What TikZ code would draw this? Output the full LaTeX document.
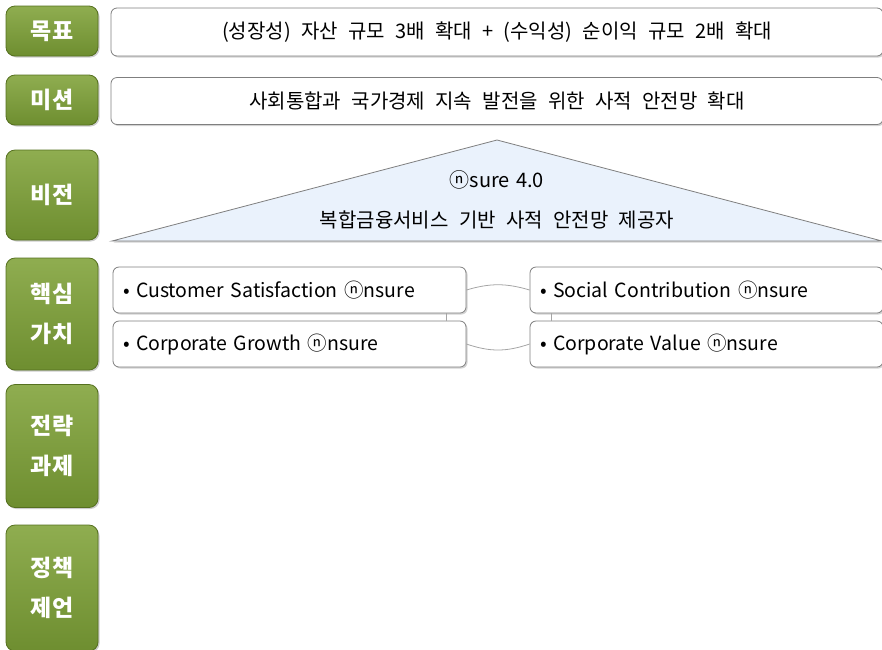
\documentclass[tikz,border=0pt]{standalone}
\usepackage{fontspec}
\setmainfont{Noto Sans CJK KR}[WordSpace=2.3]
\usetikzlibrary{shadows}
\definecolor{btntop}{HTML}{8FAD50}
\definecolor{btnbot}{HTML}{6E8E30}
\definecolor{btnedge}{HTML}{55701F}
\definecolor{tri}{HTML}{EAF2FC}
\definecolor{edge}{HTML}{7F7F7F}
\tikzset{
  btn/.style={draw=btnedge, line width=0.8pt, rounded corners=9pt, top color=btntop, bottom color=btnbot,
    drop shadow={shadow xshift=1.5pt, shadow yshift=-1.5pt, opacity=0.4},
    text=white, font=\bfseries\fontsize{23}{40}\selectfont, align=center, minimum width=92pt, inner sep=0pt},
  wbox/.style={draw=edge, line width=0.8pt, rounded corners=6pt, fill=white,
    drop shadow={shadow xshift=1.5pt, shadow yshift=-1.5pt, opacity=0.35},
    font=\fontsize{20}{22}\selectfont, inner sep=0pt},
  vbox/.style={wbox, font=\fontsize{19.5}{22}\selectfont, minimum width=353pt, minimum height=46pt, text width=333pt, align=left},
  vtext/.style={font=\fontsize{20}{22}\selectfont},
  link/.style={draw=edge!70, line width=0.8pt}
}
\begin{document}
\begin{tikzpicture}[x=1pt,y=-1pt]
\useasboundingbox (0,0) rectangle (882,649);
% left buttons
\node[btn, minimum height=50pt] (goalb) at (52,31) {목표};
\node[btn, minimum height=50pt] (missb) at (52,100) {미션};
\node[btn, minimum height=90pt] (visb) at (52,195) {비전};
\node[btn, minimum height=112pt] (coreb) at (52,314) {핵심\\가치};
\node[btn, minimum height=123pt] (stratb) at (52,446) {전략\\과제};
\node[btn, minimum height=126pt] (polb) at (52,588) {정책\\제언};
% goal / mission
\node[wbox, minimum width=772pt, minimum height=48pt] (goal) at (497,32) {(성장성) 자산 규모 3배 확대 + (수익성) 순이익 규모 2배 확대};
\node[wbox, minimum width=772pt, minimum height=47pt] (miss) at (497,101) {사회통합과 국가경제 지속 발전을 위한 사적 안전망 확대};
% vision triangle
\path[draw=edge, line width=0.8pt, fill=tri, drop shadow={shadow xshift=1.5pt, shadow yshift=-1.5pt, opacity=0.35}]
  (497,140) coordinate (apex) -- (112,241) coordinate (bl) -- (882,241) coordinate (br) -- cycle;
\node[vtext] (vis1) at (497,180) {ⓝsure\hspace{-4pt} 4.0};
\node[vtext] (vis2) at (497,220) {복합금융서비스 기반 사적 안전망 제공자};
% core values
\node[vbox] (cv1) at (289.5,290) {• Customer Satisfaction ⓝnsure};
\node[vbox] (cv2) at (289.5,344) {• Corporate Growth ⓝnsure};
\node[vbox] (cv3) at (706.5,290) {• Social Contribution ⓝnsure};
\node[vbox] (cv4) at (706.5,344) {• Corporate Value ⓝnsure};
\draw[link] (cv1.east) .. controls (490,283) and (506,283) .. (cv3.west);
\draw[link] (cv2.east) .. controls (490,352) and (506,352) .. (cv4.west);
\draw[link] (446,313) -- (446,321);
\draw[link] (551,313) -- (551,321);
\end{tikzpicture}
\end{document}
